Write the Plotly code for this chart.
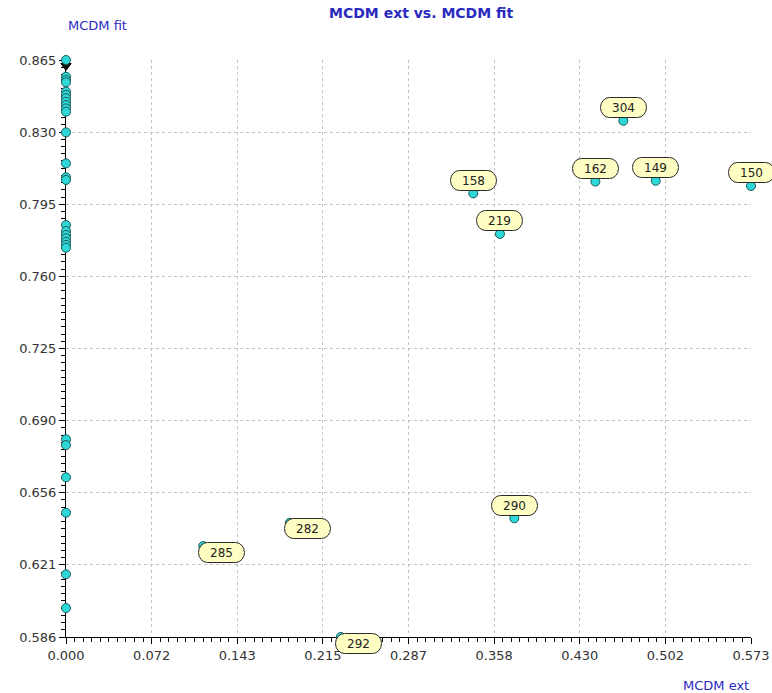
import numpy as np
import plotly.graph_objects as go

# ---- data -------------------------------------------------------------
# alternatives sitting on the fit axis (MCDM ext = 0)
axis_fit = [0.8650, 0.8569, 0.8553, 0.8542, 0.8497, 0.8481, 0.8465, 0.8448,
            0.8432, 0.8416, 0.8400, 0.8300, 0.8150, 0.8083, 0.8070, 0.7852,
            0.7823, 0.7804, 0.7788, 0.7771, 0.7756, 0.7742, 0.6816, 0.6788,
            0.6632, 0.6461, 0.6163, 0.6000]
axis_ext = [0.0] * len(axis_fit)
# selected (dark) alternative just under the top of the fit axis
selected_ext = [0.0]
selected_fit = [0.8622]

# labelled alternatives
point_ids = ["304", "162", "149", "150", "158", "219", "290", "282", "285", "292"]
point_ext = [0.4662, 0.4428, 0.4933, 0.5730, 0.3407, 0.3630, 0.3750, 0.1872, 0.1148, 0.2299]
point_fit = [0.8356, 0.8062, 0.8066, 0.8041, 0.8005, 0.7809, 0.6434, 0.6412, 0.6300, 0.5860]

x_tick_labels = ["0.000", "0.072", "0.143", "0.215", "0.287", "0.358", "0.430", "0.502", "0.573"]
y_tick_labels = ["0.586", "0.621", "0.656", "0.690", "0.725", "0.760", "0.795", "0.830", "0.865"]

x_range = [0.0, 0.573]
y_range = [0.586, 0.865]

# ---- styling ----------------------------------------------------------
MARK_FILL = "#2fd8d8"
MARK_LINE = "#1d5a5a"
BOX_FILL = "#ffffc4"
BOX_LINE = "#2a2a2a"
TITLE_BLUE = "#2a2ac0"
FONT = "DejaVu Sans"

# callouts drawn down-right of their point instead of above it
callout_below_right = {"282", "285", "292"}

x_major = np.linspace(x_range[0], x_range[1], len(x_tick_labels))
y_major = np.linspace(y_range[0], y_range[1], len(y_tick_labels))
x_minor = np.linspace(x_range[0], x_range[1], (len(x_tick_labels) - 1) * 10 + 1)
y_minor = np.linspace(y_range[0], y_range[1], (len(y_tick_labels) - 1) * 10 + 1)

fig = go.Figure()

marker_style = dict(size=9, color=MARK_FILL, line=dict(color=MARK_LINE, width=1))

fig.add_trace(go.Scatter(x=selected_ext, y=selected_fit, mode="markers",
                         marker=dict(size=9, color="#111111", symbol="triangle-down",
                                     line=dict(color="#000000", width=1)),
                         cliponaxis=False, hoverinfo="skip", showlegend=False))
fig.add_trace(go.Scatter(x=axis_ext, y=axis_fit, mode="markers", marker=marker_style,
                         cliponaxis=False, showlegend=False))
fig.add_trace(go.Scatter(x=point_ext, y=point_fit, mode="markers", marker=marker_style,
                         text=point_ids, cliponaxis=False, showlegend=False))

# id callouts (boxed annotations, corners rounded after render)
for pid, ex, ft in zip(point_ids, point_ext, point_fit):
    if pid in callout_below_right:
        dx, dy = 18, -6
    else:
        dx, dy = 0, 13
    fig.add_annotation(x=ex, y=ft, text=pid, showarrow=False, xanchor="center", yanchor="middle",
                       xshift=dx, yshift=dy, width=43, height=17, borderpad=1, borderwidth=1,
                       bgcolor=BOX_FILL, bordercolor=BOX_LINE, align="center", valign="middle",
                       font=dict(family=FONT, size=12, color="#222222"))

# titles
fig.add_annotation(xref="paper", yref="paper", x=0.518, y=1, yshift=47, showarrow=False,
                   text="<b>MCDM ext vs. MCDM fit</b>", xanchor="center", yanchor="middle",
                   font=dict(family=FONT, size=14, color=TITLE_BLUE))
fig.add_annotation(xref="paper", yref="paper", x=0, y=1, yshift=35, showarrow=False,
                   text="MCDM fit", xanchor="left", yanchor="middle",
                   font=dict(family=FONT, size=13, color=TITLE_BLUE))
fig.add_annotation(xref="paper", yref="paper", x=1, y=0, yshift=-48, showarrow=False,
                   text="MCDM ext", xanchor="right", yanchor="middle",
                   font=dict(family=FONT, size=13, color=TITLE_BLUE))

axis_common = dict(
    showline=True, linecolor="black", linewidth=1, zeroline=False,
    showgrid=True, gridcolor="#c4c4c4", griddash="3px,3px", gridwidth=1,
    ticks="outside", ticklen=6, tickcolor="black", tickwidth=1,
    tickfont=dict(family=FONT, size=13, color="#333333"),
    layer="below traces", fixedrange=True, automargin=False,
)

fig.update_xaxes(range=x_range, tickmode="array", tickvals=x_major, ticktext=x_tick_labels,
                 minor=dict(tickmode="array", tickvals=x_minor, ticks="outside", ticklen=4,
                            tickcolor="black", showgrid=False),
                 **axis_common)
fig.update_yaxes(range=y_range, tickmode="array", tickvals=y_major, ticktext=y_tick_labels,
                 minor=dict(tickmode="array", tickvals=y_minor, ticks="outside", ticklen=4,
                            tickcolor="black", showgrid=False),
                 **axis_common)

fig.update_layout(
    width=772, height=693,
    margin=dict(l=66, r=21, t=60, b=56, autoexpand=False),
    paper_bgcolor="white", plot_bgcolor="white",
    font=dict(family=FONT),
    showlegend=False,
)

# give the callout boxes pill-shaped corners
round_corners = """
var gd = document.getElementById('{plot_id}');
gd.querySelectorAll('g.annotation-text-g rect.bg').forEach(function (r) {
    r.setAttribute('rx', 9);
    r.setAttribute('ry', 10);
});
"""

fig.write_html("out.html", post_script=round_corners)
